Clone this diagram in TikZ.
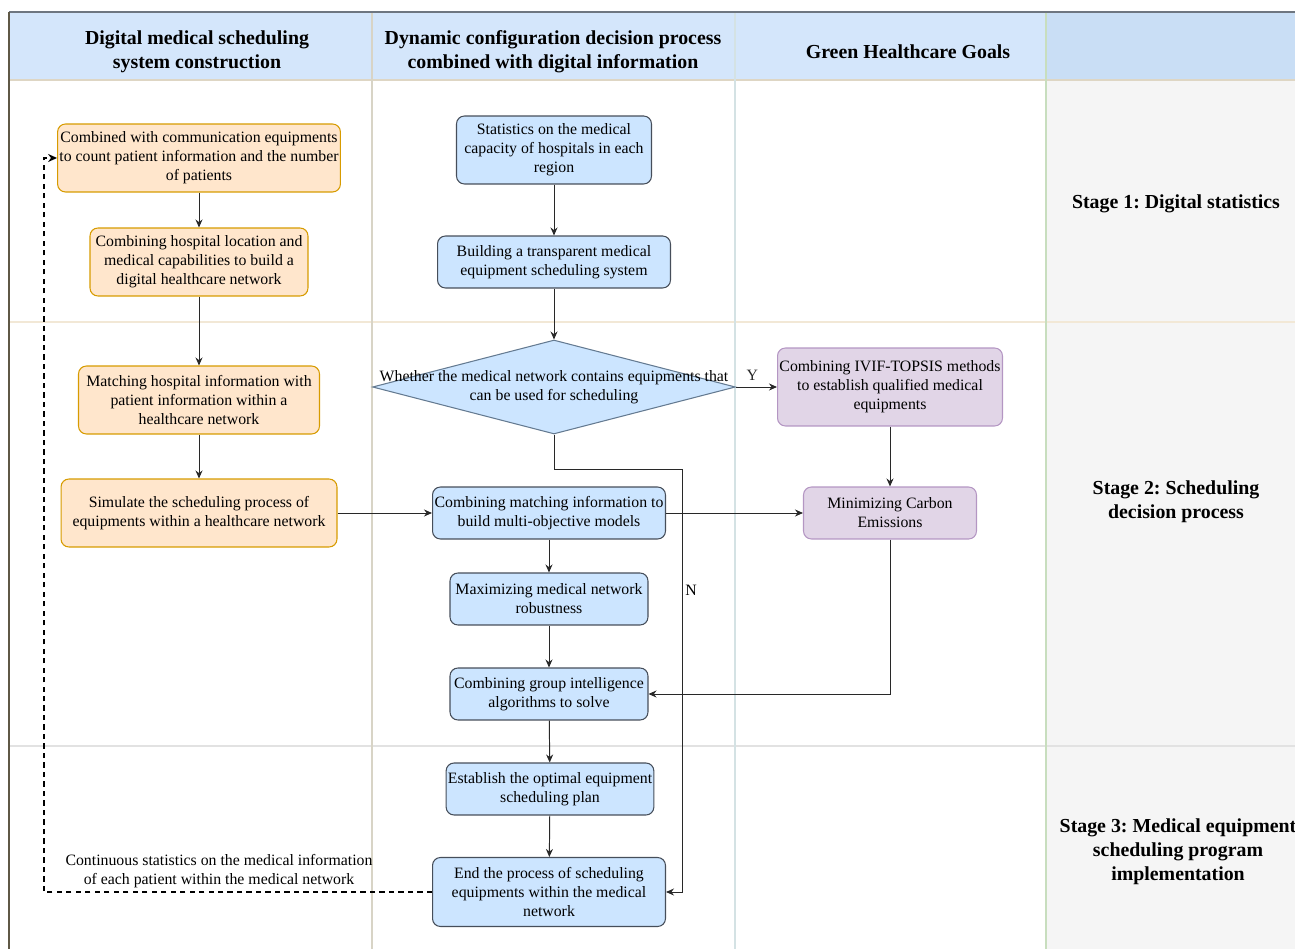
\documentclass[tikz,border=0pt]{standalone}
\usepackage{fontspec}
\setmainfont{Liberation Serif}
\frenchspacing
\usetikzlibrary{arrows.meta,shapes.geometric}
\definecolor{orfill}{RGB}{255,230,204}
\definecolor{ordraw}{RGB}{215,155,0}
\definecolor{bufill}{RGB}{204,229,255}
\definecolor{budraw}{RGB}{70,78,90}
\definecolor{pufill}{RGB}{225,213,231}
\definecolor{pudraw}{RGB}{180,150,195}
\definecolor{hdfill}{RGB}{212,230,251}
\definecolor{hdfilltwo}{RGB}{201,222,245}
\definecolor{stgfill}{RGB}{245,245,245}
\definecolor{linegrey}{RGB}{40,40,40}
\newcommand{\bodyfont}{\fontsize{9}{10.8}\selectfont}
\newcommand{\headfont}{\fontsize{11.3}{13.6}\selectfont\bfseries}
\tikzset{
  cellbox/.style={rounded corners=4.5pt,line width=0.6pt,align=center,
                  font=\bodyfont,inner sep=1pt},
  orbox/.style={cellbox,draw=ordraw,fill=orfill},
  bubox/.style={cellbox,draw=budraw,fill=bufill},
  pubox/.style={cellbox,draw=pudraw,fill=pufill},
  headtext/.style={font=\headfont,align=center},
  flow/.style={-{Stealth[length=1.6mm,width=1.4mm]},line width=0.55pt,linegrey}
}

\begin{document}
\begin{tikzpicture}[x=0.02cm,y=-0.02cm]
  \useasboundingbox (0,0) rectangle (1295,949);
  % lanes and stages
  \fill[hdfill] (9,12) rectangle (1046,80);
  \fill[hdfilltwo] (1046,12) rectangle (1295,80);
  \fill[stgfill] (1046,80) rectangle (1295,949);
  \draw[line width=0.6pt,color={rgb,255:red,222;green,214;blue,196}] (9,80) -- (1295,80);
  \draw[line width=0.6pt,color={rgb,255:red,242;green,232;blue,214}] (9,322) -- (1295,322);
  \draw[line width=0.6pt,color={rgb,255:red,226;green,226;blue,226}] (9,746) -- (1295,746);
  \draw[line width=0.6pt,color={rgb,255:red,216;green,212;blue,198}] (372,12) -- (372,949);
  \draw[line width=0.6pt,color={rgb,255:red,212;green,226;blue,228}] (735,12) -- (735,949);
  \draw[line width=0.6pt,color={rgb,255:red,200;green,222;blue,190}] (1046,12) -- (1046,949);
  \draw[line width=0.7pt,color={rgb,255:red,110;green,118;blue,128}] (9,12) -- (1295,12);
  \draw[line width=0.7pt,color={rgb,255:red,95;green,88;blue,70}] (9,12) -- (9,949);

  \node[headtext] (h1) at (197,52) {Digital medical scheduling\\system construction};
  \node[headtext] (h2) at (553,52) {Dynamic configuration decision process\\combined with digital information};
  \node[headtext] (h3) at (908,52) {Green Healthcare Goals};
  \node[headtext] (s1) at (1176,204) {Stage 1: Digital statistics};
  \node[headtext] (s2) at (1176,502) {Stage 2: Scheduling\\decision process};
  \node[headtext] (s3) at (1178,852) {Stage 3: Medical equipment\\scheduling program\\implementation};

  % digital scheduling system
  \node[orbox,minimum width=5.52cm,minimum height=1.36cm] (o1) at (199,158) {Combined with communication equipments\\to count patient information and the number\\of patients};
  \node[orbox,minimum width=4.36cm,minimum height=1.36cm] (o2) at (199,262) {Combining hospital location and\\medical capabilities to build a\\digital healthcare network};
  \node[orbox,minimum width=4.82cm,minimum height=1.36cm] (o3) at (199,400) {Matching hospital information with\\patient information within a\\healthcare network};
  \node[orbox,minimum width=5.52cm,minimum height=1.36cm] (o4) at (199,513) {Simulate the scheduling process of\\equipments within a healthcare network};

  % decision process
  \node[bubox,minimum width=3.9cm,minimum height=1.36cm] (b1) at (554,150) {Statistics on the medical\\capacity of hospitals in each\\region};
  \node[bubox,minimum width=4.66cm,minimum height=1.04cm] (b2) at (554,262) {Building a transparent medical\\equipment scheduling system};
  \node[diamond,draw={rgb,255:red,100;green,122;blue,145},fill=bufill,line width=0.6pt,
        minimum width=7.26cm,minimum height=1.88cm,inner sep=0pt] (q) at (554,387) {};
  \node[font=\bodyfont,align=center] (qt) at (q.center) {Whether the medical network contains equipments that\\can be used for scheduling};
  \node[bubox,minimum width=4.66cm,minimum height=1.04cm] (b3) at (549,513) {Combining matching information to\\build multi-objective models};
  \node[bubox,minimum width=3.96cm,minimum height=1.04cm] (b4) at (549,599) {Maximizing medical network\\robustness};
  \node[bubox,minimum width=3.96cm,minimum height=1.04cm] (b5) at (549,694) {Combining group intelligence\\algorithms to solve};
  \node[bubox,minimum width=4.14cm,minimum height=1.04cm] (b6) at (550,789) {Establish the optimal equipment\\scheduling plan};
  \node[bubox,minimum width=4.66cm,minimum height=1.38cm] (b7) at (549,892) {End the process of scheduling\\equipments within the medical\\network};

  % green goals
  \node[pubox,minimum width=4.5cm,minimum height=1.56cm] (p1) at (890,387) {Combining IVIF-TOPSIS methods\\to establish qualified medical\\equipments};
  \node[pubox,minimum width=3.46cm,minimum height=1.04cm] (p2) at (890,513) {Minimizing Carbon\\Emissions};

  \coordinate (nturn) at (682,469);
  \coordinate (fback) at (44,892);

  \draw[flow] (o1)--(o2);\draw[flow] (o2)--(o3);\draw[flow] (o3)--(o4);
  \draw[flow] (o4)--(b3);
  \draw[flow] (b1)--(b2);\draw[flow] (b2)--(q);
  \draw[flow] (q.east)--(p1.west) node[pos=0.4,above,font=\bodyfont] (ylab) {Y};
  \draw[flow] (q.south) |- (nturn) |- (b7.east);
  \node[font=\bodyfont] (nlab) at (691,590) {N};
  \draw[flow] (p1)--(p2);
  \draw[flow] (b3)--(p2);
  \draw[flow] (b3)--(b4);\draw[flow] (b4)--(b5);\draw[flow] (b5)--(b6);\draw[flow] (b6)--(b7);
  \draw[flow] (p2.south) |- (b5.east);
  \draw[flow,dash pattern=on 3pt off 2.4pt,line width=0.9pt,-{Stealth[length=1.8mm,width=1.6mm]},black]
    (b7.west) -- (fback) |- (o1.west);
  \node[font=\bodyfont,align=center] (fbtext) at (219,871) {Continuous statistics on the medical information\\of each patient within the medical network};
\end{tikzpicture}
\end{document}
